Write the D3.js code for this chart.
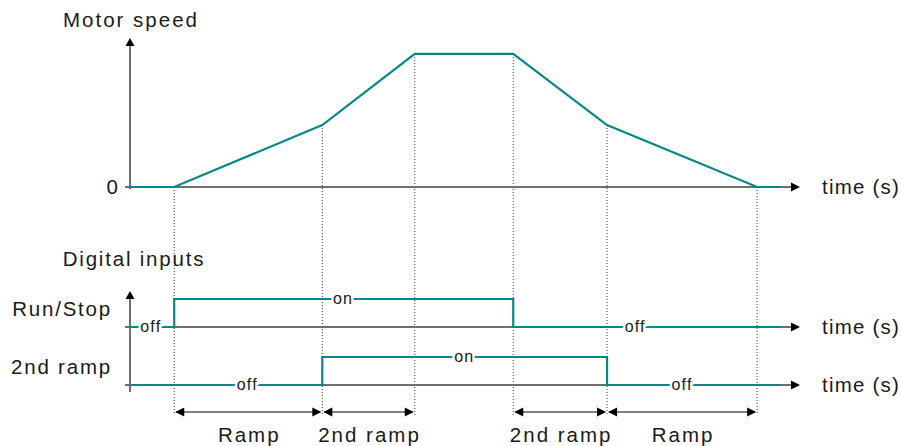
<!DOCTYPE html>
<html><head><meta charset="utf-8">
<script src="https://cdn.jsdelivr.net/npm/d3@7"></script>
<style>
body{margin:0;background:#fff;}
text{font-family:"Liberation Sans",Arial,sans-serif;fill:#1a1a1a;}
</style></head>
<body><svg id="c" width="901" height="446"></svg>
<script>
// ---- data ----
const eventTimes = [0, 6.6, 28.7, 42.5, 57.2, 71.2, 93.6, 97];
const speedValues = [0, 0, 41.6, 89.3, 89.3, 41.6, 0, 0];
const runStopTimes = [0, 6.6, 57.2, 97];
const runStopValues = [0, 1, 0, 0];
const ramp2Times = [0, 28.7, 71.2, 97];
const ramp2Values = [0, 1, 0, 0];
const dottedTimes = [6.6, 28.7, 42.5, 57.2, 71.2, 93.6];
const stateLabels = [
  {row: "run", t: 3.1, v: 0, text: "off"},
  {row: "run", t: 31.8, v: 1, text: "on"},
  {row: "run", t: 75.4, v: 0, text: "off"},
  {row: "ramp2", t: 17.5, v: 0, text: "off"},
  {row: "ramp2", t: 49.9, v: 1, text: "on"},
  {row: "ramp2", t: 82.4, v: 0, text: "off"}
];
const spanStarts = [6.6, 28.7, 57.2, 71.2];
const spanEnds = [28.7, 42.5, 71.2, 93.6];
const spanLabels = ["Ramp", "2nd ramp", "2nd ramp", "Ramp"];
const rowLabels = ["Run/Stop", "2nd ramp"];
const axisTitle = "Motor speed";
const digitalTitle = "Digital inputs";
const timeLabel = "time (s)";

// ---- scales ----
const teal = "#07878a", grey = "#6f6f6f";
const svg = d3.select("#c");
const x = d3.scaleLinear().domain([0, 100]).range([130, 800]);
const ySpeed = d3.scaleLinear().domain([0, 100]).range([187, 38]);
const yRun = d3.scaleLinear().domain([0, 1]).range([327, 299]);
const yRamp = d3.scaleLinear().domain([0, 1]).range([385, 357]);
const rowScale = {run: yRun, ramp2: yRamp};
const bottomY = 415;
const fs = "20.5px";

function tri(cx, cy, dir, len, half) {
  if (dir === 'r') return `M${cx},${cy}L${cx-len},${cy-half}L${cx-len},${cy+half}Z`;
  if (dir === 'l') return `M${cx},${cy}L${cx+len},${cy-half}L${cx+len},${cy+half}Z`;
  return `M${cx},${cy}L${cx-half},${cy+len}L${cx+half},${cy+len}Z`;
}

// dotted guide lines
const speedAt = t => speedValues[eventTimes.indexOf(t)];
svg.append("g").selectAll("line").data(dottedTimes).join("line")
  .attr("x1", d => x(d)).attr("x2", d => x(d))
  .attr("y1", d => ySpeed(speedAt(d))).attr("y2", bottomY)
  .attr("stroke", "#333").attr("stroke-width", 1).attr("stroke-dasharray", "1,2");

// ---- top chart axes ----
svg.append("line").attr("x1", x(0)).attr("x2", x(0)).attr("y1", ySpeed(0) + 2).attr("y2", ySpeed(96))
  .attr("stroke", grey).attr("stroke-width", 2);
svg.append("path").attr("d", tri(x(0), ySpeed(100), 'u', 8, 4.5)).attr("fill", "#000");
svg.append("line").attr("x1", x(0) - 5).attr("x2", x(98.8)).attr("y1", ySpeed(0)).attr("y2", ySpeed(0))
  .attr("stroke", grey).attr("stroke-width", 2);
svg.append("path").attr("d", tri(x(100), ySpeed(0), 'r', 9, 4.5)).attr("fill", "#000");

svg.append("path").datum(d3.zip(eventTimes, speedValues))
  .attr("d", d3.line().x(d => x(d[0])).y(d => ySpeed(d[1])))
  .attr("fill", "none").attr("stroke", teal).attr("stroke-width", 2.2).attr("stroke-linejoin", "miter");

svg.append("text").attr("x", x(0) + 1).attr("y", 27).attr("text-anchor", "middle")
  .style("font-size", fs).style("letter-spacing", "2px").text(axisTitle);
svg.append("text").attr("x", 118).attr("y", ySpeed(0)).attr("dy", "0.36em").attr("text-anchor", "end")
  .style("font-size", fs).text("0");

// ---- digital chart axes ----
svg.append("line").attr("x1", x(0)).attr("x2", x(0)).attr("y1", 392).attr("y2", 298)
  .attr("stroke", grey).attr("stroke-width", 2);
svg.append("path").attr("d", tri(x(0), 291, 'u', 8, 4.5)).attr("fill", "#000");
svg.append("text").attr("x", 134).attr("y", 266).attr("text-anchor", "middle")
  .style("font-size", fs).style("letter-spacing", "1.8px").text(digitalTitle);

[yRun, yRamp].forEach((ys, i) => {
  svg.append("line").attr("x1", x(0) - 5).attr("x2", x(98.8)).attr("y1", ys(0)).attr("y2", ys(0))
    .attr("stroke", grey).attr("stroke-width", 2);
  svg.append("path").attr("d", tri(x(100), ys(0), 'r', 9, 4.5)).attr("fill", "#000");
  svg.append("text").attr("x", 112).attr("y", ys(0) - 11).attr("text-anchor", "end")
    .style("font-size", fs).style("letter-spacing", "1.8px").text(rowLabels[i]);
});

// time labels
[ySpeed(0), yRun(0), yRamp(0)].forEach(yy => {
  svg.append("text").attr("x", 822).attr("y", yy).attr("dy", "0.35em")
    .style("font-size", fs).style("letter-spacing", "1.2px").text(timeLabel);
});

const step = d3.line().curve(d3.curveStepAfter);
svg.append("path").datum(d3.zip(runStopTimes, runStopValues))
  .attr("d", step.x(d => x(d[0])).y(d => yRun(d[1])))
  .attr("fill", "none").attr("stroke", teal).attr("stroke-width", 2.2);
svg.append("path").datum(d3.zip(ramp2Times, ramp2Values))
  .attr("d", step.x(d => x(d[0])).y(d => yRamp(d[1])))
  .attr("fill", "none").attr("stroke", teal).attr("stroke-width", 2.2);

svg.append("g").selectAll("text").data(stateLabels).join("text")
  .attr("x", d => x(d.t)).attr("y", d => rowScale[d.row](d.v)).attr("dy", "0.32em")
  .attr("text-anchor", "middle")
  .style("font-size", "16px").style("letter-spacing", "1.2px")
  .attr("stroke", "#fff").attr("stroke-width", 5).attr("paint-order", "stroke")
  .text(d => d.text);

// ---- bottom spans ----
const spans = spanStarts.map((s, i) => ({s, e: spanEnds[i], label: spanLabels[i]}));
const sg = svg.append("g").selectAll("g").data(spans).join("g");
sg.append("line").attr("x1", d => x(d.s) + 2).attr("x2", d => x(d.e) - 2)
  .attr("y1", 412).attr("y2", 412).attr("stroke", "#000").attr("stroke-width", 1.2);
sg.append("path").attr("d", d => tri(x(d.s) + 1, 412, 'l', 9, 4.5)).attr("fill", "#000");
sg.append("path").attr("d", d => tri(x(d.e) - 1, 412, 'r', 9, 4.5)).attr("fill", "#000");
sg.append("text").attr("x", d => (x(d.s) + x(d.e)) / 2 + 1).attr("y", 442).attr("text-anchor", "middle")
  .style("font-size", fs).style("letter-spacing", "2px").text(d => d.label);
</script></body></html>
